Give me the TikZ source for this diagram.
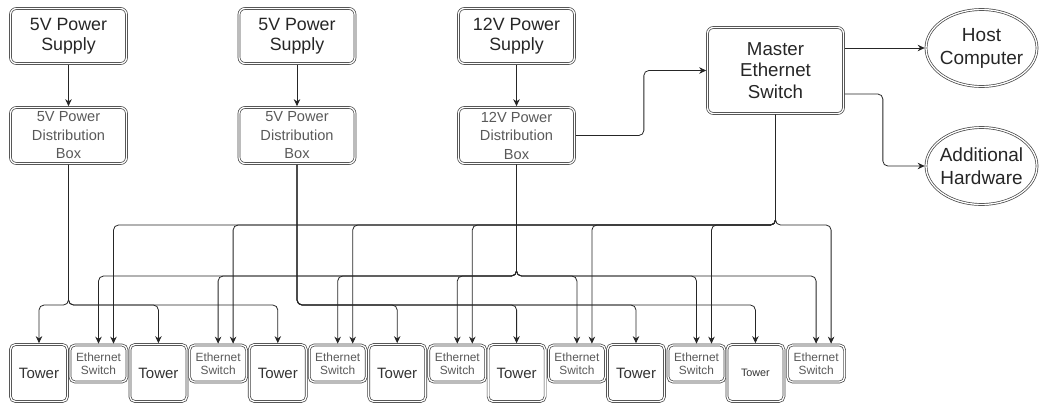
\documentclass[tikz,border=0pt]{standalone}
\usepackage{fontspec}
\setmainfont{Liberation Sans}
\usetikzlibrary{arrows.meta,shapes.geometric}

\begin{document}
\begin{tikzpicture}[
    x=1pt, y=-1pt,
    box/.style={draw=black!75, double=white, double distance=1.3pt, line width=0.7pt,
      outer sep=1.35pt, rounded corners=6pt, inner sep=0pt, align=center, text=black!85},
    supply/.style={box, minimum width=116pt, minimum height=55pt, font=\fontsize{17.8}{20.5}\selectfont},
    distbox/.style={box, minimum width=116pt, minimum height=56pt, text=black!65, font=\fontsize{14.6}{18.5}\selectfont},
    mswitch/.style={box, minimum width=136pt, minimum height=86pt, font=\fontsize{18.7}{21.3}\selectfont},
    endpt/.style={ellipse, draw=black!75, double=white, double distance=1.3pt, line width=0.7pt,
      outer sep=1.35pt, inner ysep=0pt, inner xsep=-2.5pt, minimum width=111pt, minimum height=77pt,
      align=center, text=black!85, font=\fontsize{19}{23}\selectfont},
    tower/.style={box, rounded corners=5pt, minimum width=57pt, minimum height=57pt, text=black!80},
    ethsw/.style={box, rounded corners=5pt, minimum width=57pt, minimum height=37pt, text=black!65,
      font=\fontsize{11.9}{13.5}\selectfont},
    wire/.style={draw=black!85, line width=0.8pt, rounded corners=5pt, -{Stealth[length=7pt, width=6.5pt]}},
  ]
    \useasboundingbox (0,0) rectangle (1039,405);
    % bus heights: A = master switch, B = 12V box, C = 5V boxes
    \coordinate (busA) at (0,225);
    \coordinate (busB) at (0,276);
    \coordinate (busC) at (0,305);
    % supplies and distribution boxes
    \foreach \n/\x/\v in {1/68.5/5V, 2/297/5V, 3/516.5/12V} {
      \node[supply] (ps\n) at (\x, 36) {\v{} Power\\Supply};
      \node[distbox] (pd\n) at (\x, 135.5) {\v{} Power\\Distribution\\Box};
      \draw[wire] (ps\n.south) -- (pd\n.north);
    }
    \node[mswitch] (msw) at (775.5, 70.5) {Master\\Ethernet\\Switch};
    \node[endpt] (host) at (981.5, 48) {Host\\Computer};
    \node[endpt] (addhw) at (981.5, 166) {Additional\\Hardware};
    % towers and ethernet switches along the bottom
    \foreach \i/\fs in {0/15, 1/15, 2/15, 3/15, 4/15, 5/15, 6/10.8} {
      \node[tower, font=\fontsize{\fs}{\fs}\selectfont] (tw\i) at (39+119.4*\i, 373) {Tower};
      \node[ethsw] (es\i) at (98.5+119.6*\i, 363.5) {Ethernet\\Switch};
    }
    % 12V box to master switch, master switch to host side
    \draw[wire] (pd3.east) -- ++(68,0) |- (msw.west);
    \draw[wire] (msw.east |- host.west) -- (host.west);
    \draw[wire] ([yshift=-23.5pt]msw.east) -- ++(38,0) |- (addhw.west);
    % 5V boxes to towers
    \foreach \i in {0,1,2}
    { \draw[wire] (pd1.south) -- (pd1.south |- busC) -| (tw\i.north); }
    \foreach \i in {3,4,5,6}
    { \draw[wire] (pd2.south) -- (pd2.south |- busC) -| (tw\i.north); }
    % 12V box and master switch to every ethernet switch
    \foreach \i in {0,...,6} {
      \draw[wire] (pd3.south) -- (pd3.south |- busB) -| (es\i.north);
      \draw[wire] (msw.south) -- (msw.south |- busA) -| ([xshift=15pt]es\i.north);
    }
\end{tikzpicture}
\end{document}
